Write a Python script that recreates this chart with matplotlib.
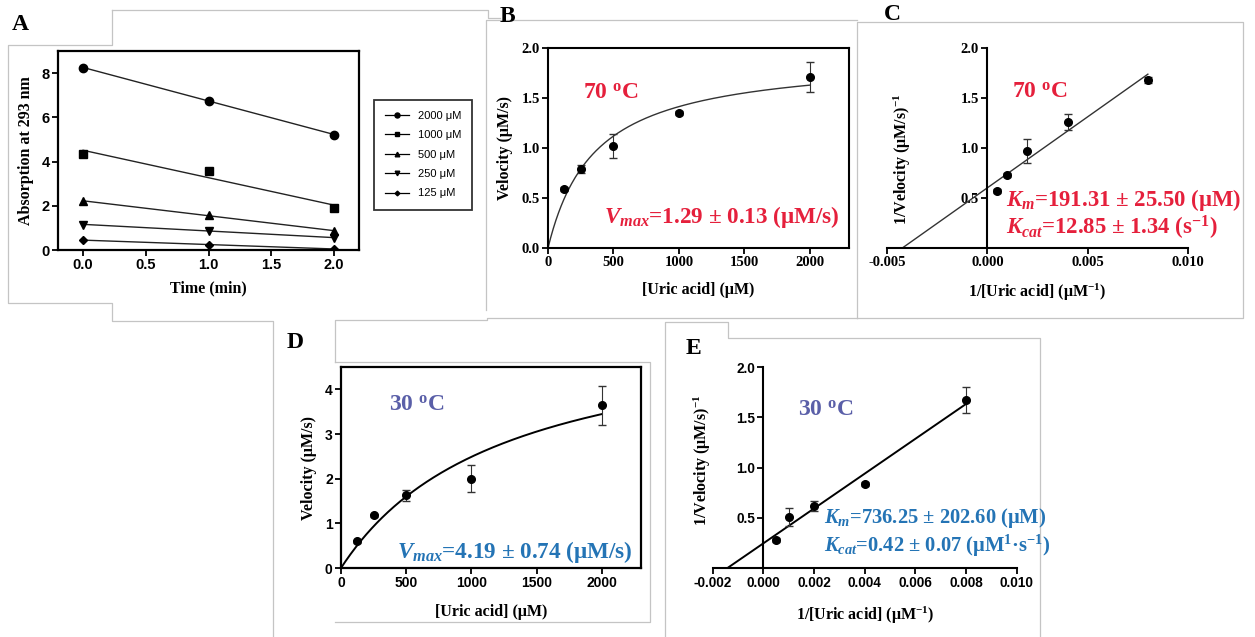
"""
Uric acid kinetics figure (panels A-E): absorption time course, Michaelis-Menten
and Lineweaver-Burk plots at 70 and 30 degC.
"""
import matplotlib

matplotlib.use("Agg")
import matplotlib.pyplot as plt
import numpy as np
from matplotlib.lines import Line2D

plt.rcParams["font.family"] = ["Liberation Serif", "DejaVu Serif"]
plt.rcParams["font.weight"] = "bold"
plt.rcParams["axes.labelweight"] = "bold"
plt.rcParams["mathtext.fontset"] = "custom"
plt.rcParams["mathtext.rm"] = "Liberation Serif:bold"
plt.rcParams["mathtext.it"] = "Liberation Serif:bold:italic"
plt.rcParams["mathtext.bf"] = "Liberation Serif:bold"
plt.rcParams["axes.unicode_minus"] = False

W, H = 1255, 637

# ---- data -----------------------------------------------------------------
# A: absorption at 293 nm vs time
time_min = [0.0, 1.0, 2.0]
conc_labels = ["2000 μM", "1000 μM", "500 μM", "250 μM", "125 μM"]
abs_2000 = [8.25, 6.75, 5.22]
abs_1000 = [4.36, 3.57, 1.88]
abs_500 = [2.2, 1.6, 0.85]
abs_250 = [1.15, 0.88, 0.55]
abs_125 = [0.45, 0.24, 0.05]

# B / D: velocity vs substrate
uric = [125, 250, 500, 1000, 2000]
vel_70 = [0.59, 0.79, 1.02, 1.35, 1.71]
vel_70_err = [0.02, 0.04, 0.12, 0.02, 0.15]
vel_30 = [0.6, 1.18, 1.63, 2.0, 3.64]
vel_30_err = [0.03, 0.04, 0.12, 0.3, 0.43]
# fitted curve parameters as drawn (Vmax, Km)
mm_fit_70 = (1.92, 358.0)
mm_fit_30 = (5.6, 1250.0)

# C / E: double reciprocal
inv_uric = [0.0005, 0.001, 0.002, 0.004, 0.008]
inv_vel_70 = [0.57, 0.73, 0.97, 1.26, 1.68]
inv_vel_70_err = [0.02, 0.02, 0.12, 0.08, 0.03]
inv_vel_30 = [0.28, 0.51, 0.62, 0.84, 1.67]
inv_vel_30_err = [0.02, 0.09, 0.05, 0.02, 0.13]

RED = "#e5203c"
SLATE = "#5a5fa8"
BLUE = "#2474b5"
SANS = ["Liberation Sans", "DejaVu Sans"]
SERIF = ["Liberation Serif"]
LABEL_SIZE = 11.5


def px_axes(fig, left, top, right, bottom):
    return fig.add_axes([left / W, 1 - bottom / H, (right - left) / W, (bottom - top) / H])


def ftext(fig, x, y, s, **kw):
    kw.setdefault("va", "center")
    kw.setdefault("ha", "left")
    return fig.text(x / W, 1 - y / H, s, **kw)


def frame(fig, xs, ys):
    fig.add_artist(Line2D([x / W for x in xs], [1 - y / H for y in ys],
                          color="#c4c4c4", lw=0.9, transform=fig.transFigure))


def style_ticks(ax, family, size):
    for lab in ax.get_xticklabels() + ax.get_yticklabels():
        lab.set_family(family)
        lab.set_fontsize(size)
        lab.set_fontweight("bold")
    ax.tick_params(direction="out", width=1.3, length=4, pad=2)


fig = plt.figure(figsize=(W / 100, H / 100), dpi=100, facecolor="white")

# panel frames
frame(fig, [112, 112, 8, 8, 112, 112, 273, 273], [10, 45, 45, 303, 303, 321, 321, 637])
frame(fig, [112, 488, 488, 500], [10, 10, 18, 18])
frame(fig, [486, 486, 857], [310, 20, 20])
frame(fig, [857, 857, 1243, 1243, 857], [318, 22, 22, 318, 318])
frame(fig, [335, 335, 487, 487, 857], [362, 320, 320, 318, 318])
frame(fig, [335, 650, 650, 335], [362, 362, 622, 622])
frame(fig, [665, 665, 728, 728, 1040, 1040], [637, 322, 322, 338, 338, 637])

# ---- A ----------------------------------------------------------------------
axA = px_axes(fig, 58, 51, 359, 250)
series_a = [abs_2000, abs_1000, abs_500, abs_250, abs_125]
markers = ["o", "s", "^", "v", "D"]
msizes = [6, 6, 5.5, 5.5, 4]
handles = []
t = np.array(time_min)
for ys, m, ms, lab in zip(series_a, markers, msizes, conc_labels):
    k, b = np.polyfit(t, ys, 1)
    axA.plot(t, k * t + b, color="#222222", lw=1.0)
    axA.plot(t, ys, ls="none", marker=m, ms=ms, color="black")
    handles.append(Line2D([], [], color="black", lw=0.9, marker=m, ms=ms * 0.6, label=lab))
axA.set_xlim(-0.2, 2.2)
axA.set_ylim(0, 9.0)
axA.set_xticks([0.0, 0.5, 1.0, 1.5, 2.0])
axA.set_xticklabels(["0.0", "0.5", "1.0", "1.5", "2.0"])
axA.set_yticks([0, 2, 4, 6, 8])
for s in axA.spines.values():
    s.set_linewidth(1.6)
style_ticks(axA, SANS, 10.5)
axA.set_xlabel("Time (min)", fontsize=LABEL_SIZE, labelpad=6)
axA.set_ylabel("Absorption at 293 nm", fontsize=LABEL_SIZE, labelpad=5)
leg = axA.legend(handles=handles, loc="upper left", bbox_to_anchor=(368 / W, 1 - 94 / H),
                 bbox_transform=fig.transFigure, frameon=True, fancybox=False,
                 edgecolor="black", prop={"family": SANS, "size": 8, "weight": "normal"},
                 handlelength=2.2, borderpad=1.0, labelspacing=0.85)
leg.get_frame().set_linewidth(1.3)
ftext(fig, 12, 25, "A", fontsize=17)

# ---- B ----------------------------------------------------------------------
axB = px_axes(fig, 548, 48, 849, 248)
xc = np.linspace(0, 2000, 300)
vm, km = mm_fit_70
axB.plot(xc, vm * xc / (km + xc), color="#333333", lw=1.0)
axB.errorbar(uric, vel_70, yerr=vel_70_err, fmt="o", ms=5.5, color="black",
             ecolor="#333333", elinewidth=0.8, capsize=3)
axB.set_xlim(0, 2300)
axB.set_ylim(0, 2.0)
axB.set_xticks([0, 500, 1000, 1500, 2000])
axB.set_yticks([0.0, 0.5, 1.0, 1.5, 2.0])
axB.set_yticklabels(["0.0", "0.5", "1.0", "1.5", "2.0"])
for s in axB.spines.values():
    s.set_linewidth(1.5)
style_ticks(axB, SERIF, 10.5)
axB.set_xlabel("[Uric acid] (μM)", fontsize=LABEL_SIZE, labelpad=9)
axB.set_ylabel("Velocity (μM/s)", fontsize=LABEL_SIZE, labelpad=6)
ftext(fig, 583, 93, "70 $^{\\mathrm{o}}$C", color=RED, fontsize=17)
ftext(fig, 604, 217, "$V_{max}$=1.29 ± 0.13 (μM/s)", color=RED, fontsize=16.7)
ftext(fig, 500, 17, "B", fontsize=17)


def recip_axes(ax, xlim, xticks, xlabels, tick_family, tick_size):
    ax.spines["left"].set_position(("data", 0))
    ax.spines["bottom"].set_position(("data", 0))
    ax.spines["top"].set_visible(False)
    ax.spines["right"].set_visible(False)
    ax.spines["left"].set_linewidth(1.5)
    ax.spines["bottom"].set_linewidth(1.5)
    ax.set_xlim(*xlim)
    ax.set_ylim(0, 2.0)
    ax.set_xticks(xticks)
    ax.set_xticklabels(xlabels)
    ax.set_yticks([0.5, 1.0, 1.5, 2.0])
    ax.set_yticklabels(["0.5", "1.0", "1.5", "2.0"])
    style_ticks(ax, tick_family, tick_size)
    ax.patch.set_alpha(0)


# ---- C ----------------------------------------------------------------------
axC = px_axes(fig, 887, 48, 1188, 248)
k, b = np.polyfit(inv_uric, inv_vel_70, 1)
xl = np.array([-b / k, max(inv_uric)])
axC.plot(xl, k * xl + b, color="#333333", lw=1.0)
axC.errorbar(inv_uric, inv_vel_70, yerr=inv_vel_70_err, fmt="o", ms=5.5, color="black",
             ecolor="#333333", elinewidth=0.8, capsize=3)
recip_axes(axC, (-0.005, 0.010), [-0.005, 0.0, 0.005, 0.010],
           ["-0.005", "0.000", "0.005", "0.010"], SERIF, 10.5)
axC.set_xlabel("1/[Uric acid] (μM$^{-1}$)", fontsize=LABEL_SIZE, labelpad=9)
ftext(fig, 902, 159, "1/Velocity (μM/s)$^{-1}$", fontsize=LABEL_SIZE, rotation=90, ha="center")
ftext(fig, 1012, 92, "70 $^{\\mathrm{o}}$C", color=RED, fontsize=17)
ftext(fig, 1006, 200, "$K_m$=191.31 ± 25.50 (μM)", color=RED, fontsize=16.4)
ftext(fig, 1006, 228, "$K_{cat}$=12.85 ± 1.34 (s$^{-1}$)", color=RED, fontsize=16.4)
ftext(fig, 884, 15, "C", fontsize=17)

# ---- D ----------------------------------------------------------------------
axD = px_axes(fig, 341, 367, 641, 568)
vm, km = mm_fit_30
axD.plot(xc, vm * xc / (km + xc), color="black", lw=1.4)
axD.errorbar(uric, vel_30, yerr=vel_30_err, fmt="o", ms=5.5, color="black",
             ecolor="#333333", elinewidth=0.8, capsize=3)
axD.set_xlim(0, 2300)
axD.set_ylim(0, 4.5)
axD.set_xticks([0, 500, 1000, 1500, 2000])
axD.set_yticks([0, 1, 2, 3, 4])
for s in axD.spines.values():
    s.set_linewidth(1.6)
style_ticks(axD, SANS, 10)
axD.set_xlabel("[Uric acid] (μM)", fontsize=LABEL_SIZE, labelpad=10)
axD.set_ylabel("Velocity (μM/s)", fontsize=LABEL_SIZE, labelpad=6)
ftext(fig, 389, 405, "30 $^{\\mathrm{o}}$C", color=SLATE, fontsize=17)
ftext(fig, 397, 552, "$V_{max}$=4.19 ± 0.74 (μM/s)", color=BLUE, fontsize=16.7)
ftext(fig, 287, 343, "D", fontsize=17)

# ---- E ----------------------------------------------------------------------
axE = px_axes(fig, 712.7, 367.3, 1016.7, 568)
k, b = np.polyfit(inv_uric, inv_vel_30, 1)
xl = np.array([-b / k, max(inv_uric)])
axE.plot(xl, k * xl + b, color="black", lw=1.4)
axE.errorbar(inv_uric, inv_vel_30, yerr=inv_vel_30_err, fmt="o", ms=5.5, color="black",
             ecolor="#333333", elinewidth=0.8, capsize=3)
recip_axes(axE, (-0.002, 0.010), [-0.002, 0.0, 0.002, 0.004, 0.006, 0.008, 0.010],
           ["-0.002", "0.000", "0.002", "0.004", "0.006", "0.008", "0.010"], SANS, 9.8)
axE.set_xlabel("1/[Uric acid] (μM$^{-1}$)", fontsize=LABEL_SIZE, labelpad=10)
ftext(fig, 702, 460, "1/Velocity (μM/s)$^{-1}$", fontsize=LABEL_SIZE, rotation=90, ha="center")
ftext(fig, 798, 410, "30 $^{\\mathrm{o}}$C", color=SLATE, fontsize=17)
ftext(fig, 824, 518, "$K_m$=736.25 ± 202.60 (μM)", color=BLUE, fontsize=14.8)
ftext(fig, 824, 546, "$K_{cat}$=0.42 ± 0.07 (μM$^{1}$·s$^{-1}$)", color=BLUE, fontsize=14.8)
ftext(fig, 686, 348, "E", fontsize=17)

fig.savefig("out.png", dpi=100, facecolor="white")
